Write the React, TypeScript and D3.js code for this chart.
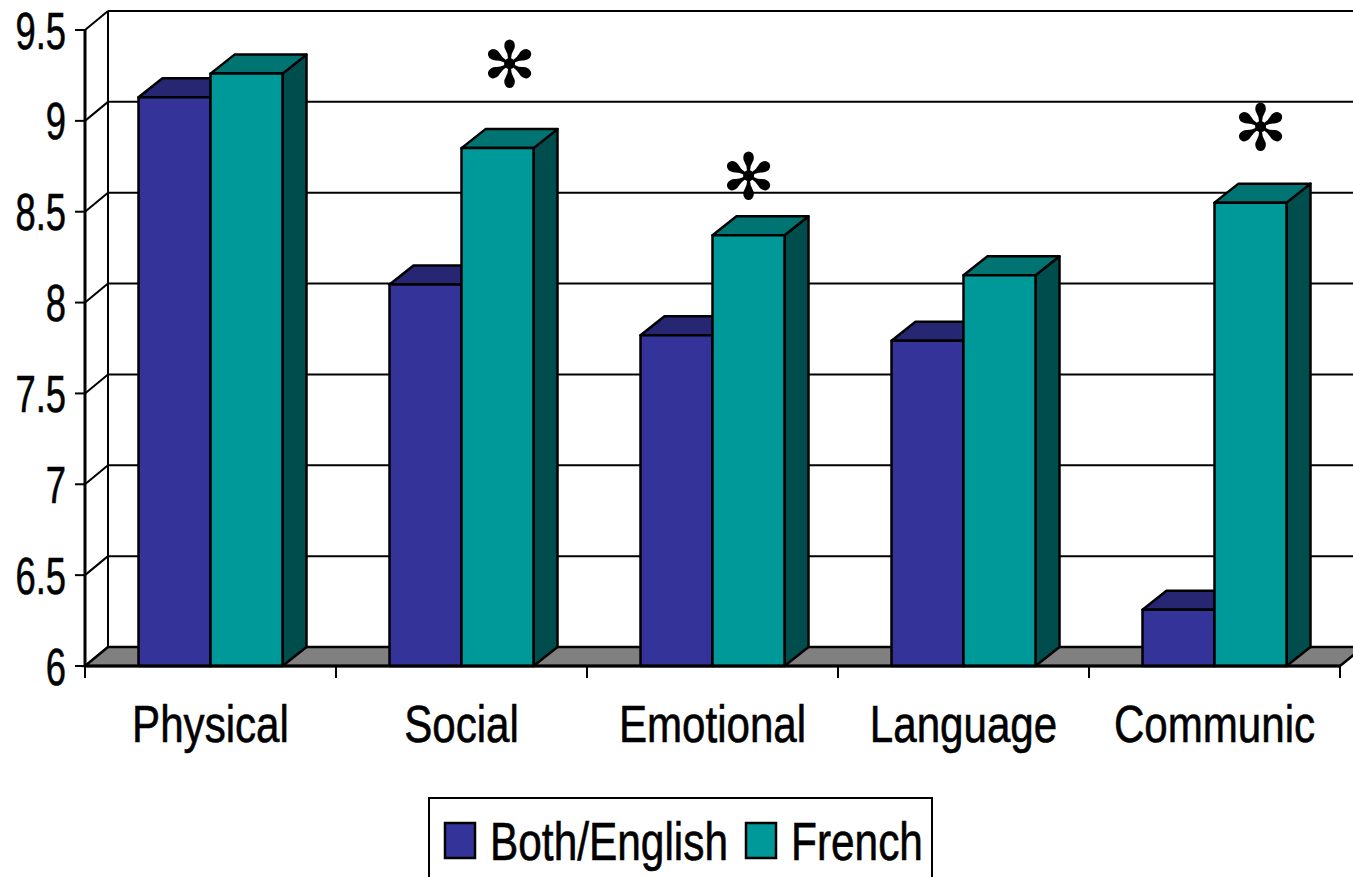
import React from "react";
import * as d3 from "d3";

const categories = ["Physical", "Social", "Emotional", "Language", "Communic"];
const seriesNames = ["Both/English", "French"];
const bothEnglish = [9.13, 8.1, 7.82, 7.79, 6.31];
const french = [9.26, 8.85, 8.37, 8.15, 8.55];
const asteriskLevel: (number | null)[] = [null, 9.31, 8.69, null, 8.96];
const asteriskShift = [0, 12, 0, 0, 10];
const yTicks = [6, 6.5, 7, 7.5, 8, 8.5, 9, 9.5];
const yTickLabels = ["6", "6.5", "7", "7.5", "8", "8.5", "9", "9.5"];

const W = 1353;
const H = 877;
const FONT = "'Liberation Sans', Arial, sans-serif";

const colors = {
  blue: { front: "#333399", top: "#262673", side: "#1a1a4d" },
  teal: { front: "#009999", top: "#007373", side: "#004d4d" },
};

function CText(props: {
  x: number;
  y: number;
  sx: number;
  size: number;
  anchor?: string;
  children: React.ReactNode;
}) {
  return (
    <text
      transform={`translate(${props.x},${props.y}) scale(${props.sx},1)`}
      textAnchor={props.anchor || "start"}
      fontSize={props.size}
      fontFamily={FONT}
      fill="#000"
      stroke="#000"
      strokeWidth={0.6}
    >
      {props.children}
    </text>
  );
}

export default function App() {
  const x0 = 85;
  const x1 = 1340;
  const DX = 23;
  const DY = -19;
  const y = d3.scaleLinear().domain([6, 9.5]).range([666, 30]);
  const band = d3.scaleBand<string>().domain(categories).range([x0, x1]);
  const bw = 72;
  const barDX = 24;
  const barDY = -19;
  const base = y(6);

  const bars: React.ReactNode[] = [];
  categories.forEach((c, i) => {
    const cx = (band(c) as number) + band.bandwidth() / 2;
    const series = [
      { v: bothEnglish[i], col: colors.blue, left: cx - bw },
      { v: french[i], col: colors.teal, left: cx },
    ];
    series.forEach((s, j) => {
      const top = y(s.v);
      const l = s.left;
      const r = s.left + bw;
      bars.push(
        <g key={`${i}-${j}`} stroke="#000" strokeWidth={2.5} strokeLinejoin="round">
          <polygon
            points={`${r},${top} ${r + barDX},${top + barDY} ${r + barDX},${base + barDY} ${r},${base}`}
            fill={s.col.side}
          />
          <polygon
            points={`${l},${top} ${l + barDX},${top + barDY} ${r + barDX},${top + barDY} ${r},${top}`}
            fill={s.col.top}
          />
          <rect x={l} y={top} width={bw} height={base - top} fill={s.col.front} />
        </g>
      );
    });
  });

  const asterisks = categories.map((c, i) => {
    const lv = asteriskLevel[i];
    if (lv === null) return null;
    const cx = (band(c) as number) + band.bandwidth() / 2 + bw / 2 + asteriskShift[i];
    return (
      <text
        key={`ast-${i}`}
        x={cx}
        y={y(lv)}
        textAnchor="middle"
        dominantBaseline="central"
        fontFamily="'DejaVu Sans', sans-serif"
        fontSize={64}
        fill="#000"
      >
        ✻
      </text>
    );
  });

  return (
    <svg
      width={W}
      height={H}
      style={{ position: "absolute", left: 0, top: 0, background: "#fff" }}
    >
      {/* back wall top & left edge */}
      <line x1={x0 + DX} y1={y(9.5) + DY} x2={W + 5} y2={y(9.5) + DY} stroke="#000" strokeWidth={2} />
      <line x1={x0 + DX} y1={y(9.5) + DY} x2={x0 + DX} y2={base + DY} stroke="#000" strokeWidth={2} />
      {/* gridlines on back wall and side wall */}
      {yTicks.map((t) => (
        <g key={`g-${t}`} stroke="#000" strokeWidth={2}>
          <line x1={x0 + DX} y1={y(t) + DY} x2={W + 5} y2={y(t) + DY} />
          <line x1={x0} y1={y(t)} x2={x0 + DX} y2={y(t) + DY} />
          <line x1={x0 - 10} y1={y(t)} x2={x0} y2={y(t)} />
        </g>
      ))}
      {/* floor */}
      <polygon
        points={`${x0},${base} ${x1},${base} ${x1 + DX},${base + DY} ${x0 + DX},${base + DY}`}
        fill="#808080"
        stroke="#000"
        strokeWidth={2.5}
      />
      {/* y axis line */}
      <line x1={x0} y1={y(9.5)} x2={x0} y2={base} stroke="#000" strokeWidth={3} />
      {bars}
      {/* x axis */}
      <line x1={x0} y1={base} x2={x1} y2={base} stroke="#000" strokeWidth={3} />
      {d3.range(categories.length + 1).map((k) => {
        const xx = x0 + k * band.step();
        return <line key={`xt-${k}`} x1={xx} y1={base} x2={xx} y2={base + 12} stroke="#000" strokeWidth={2} />;
      })}
      {yTicks.map((t, k) => (
        <CText key={`yl-${t}`} x={66} y={y(t) + 18.5} sx={0.7} size={52} anchor="end">
          {yTickLabels[k]}
        </CText>
      ))}
      {categories.map((c) => (
        <CText
          key={`xl-${c}`}
          x={(band(c) as number) + band.bandwidth() / 2}
          y={742}
          sx={0.81}
          size={52}
          anchor="middle"
        >
          {c}
        </CText>
      ))}
      {asterisks}
      {/* legend */}
      <rect x={429} y={798} width={503} height={100} fill="#fff" stroke="#000" strokeWidth={2} />
      {seriesNames.map((n, k) => {
        const lx = k === 0 ? 445 : 746;
        const col = k === 0 ? colors.blue.front : colors.teal.front;
        return (
          <g key={`lg-${k}`}>
            <rect x={lx} y={823} width={30} height={35} fill={col} stroke="#000" strokeWidth={2.5} />
            <CText x={lx + 45} y={860} sx={0.8} size={53}>
              {n}
            </CText>
          </g>
        );
      })}
    </svg>
  );
}
